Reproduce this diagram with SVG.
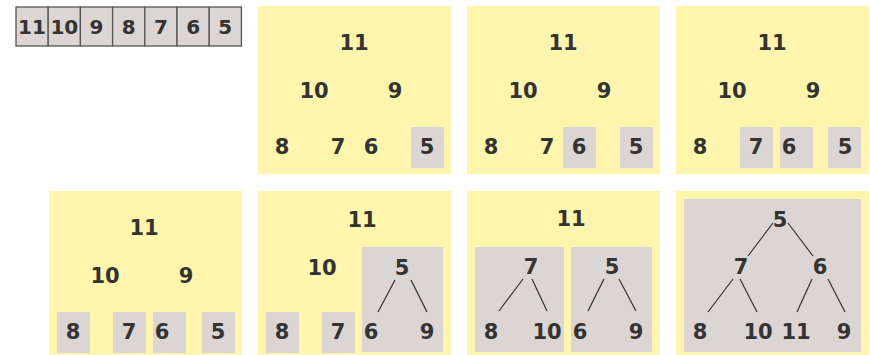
<svg xmlns="http://www.w3.org/2000/svg" width="870" height="355" viewBox="0 0 870 355">
<style>
.panel{fill:#fff5ad}
.box{fill:#dbd5d3}
.cell{fill:#dbd5d3;stroke:#555;stroke-width:1.3}
text{font-family:"DejaVu Sans","Liberation Sans",sans-serif;font-weight:bold;font-size:21px;fill:#333;text-anchor:middle}
.arr{font-size:20px}
.edge{stroke:#333;stroke-width:1.2;fill:none}
</style>
<rect width="870" height="355" fill="#fff"/>
<g id="array">
<rect class="cell" x="16" y="7" width="32.2" height="39"/>
<rect class="cell" x="48.2" y="7" width="32.2" height="39"/>
<rect class="cell" x="80.4" y="7" width="32.2" height="39"/>
<rect class="cell" x="112.6" y="7" width="32.2" height="39"/>
<rect class="cell" x="144.8" y="7" width="32.2" height="39"/>
<rect class="cell" x="177" y="7" width="32.2" height="39"/>
<rect class="cell" x="209.2" y="7" width="32.2" height="39"/>
<text class="arr" x="32" y="34">11</text>
<text class="arr" x="64.3" y="34">10</text>
<text class="arr" x="96.5" y="34">9</text>
<text class="arr" x="128.7" y="34">8</text>
<text class="arr" x="160.9" y="34">7</text>
<text class="arr" x="193.1" y="34">6</text>
<text class="arr" x="225.3" y="34">5</text>
</g>
<g id="panel1">
<rect class="panel" x="258" y="6" width="193" height="168"/>
<rect class="box" x="411" y="127" width="33" height="41"/>
<text x="354" y="50">11</text>
<text x="314" y="98">10</text>
<text x="395" y="98">9</text>
<text x="282" y="154">8</text>
<text x="338" y="154">7</text>
<text x="371" y="154">6</text>
<text x="427" y="154">5</text>
</g>
<g id="panel2">
<rect class="panel" x="467" y="6" width="193" height="168"/>
<rect class="box" x="563" y="127" width="33" height="41"/>
<rect class="box" x="620" y="127" width="33" height="41"/>
<text x="563" y="50">11</text>
<text x="523" y="98">10</text>
<text x="604" y="98">9</text>
<text x="491" y="154">8</text>
<text x="547" y="154">7</text>
<text x="579" y="154">6</text>
<text x="636" y="154">5</text>
</g>
<g id="panel3">
<rect class="panel" x="676" y="6" width="193" height="168"/>
<rect class="box" x="740" y="127" width="33" height="41"/>
<rect class="box" x="780" y="127" width="33" height="41"/>
<rect class="box" x="828" y="127" width="33" height="41"/>
<text x="772" y="50">11</text>
<text x="732" y="98">10</text>
<text x="813" y="98">9</text>
<text x="700" y="154">8</text>
<text x="756" y="154">7</text>
<text x="789" y="154">6</text>
<text x="845" y="154">5</text>
</g>
<g id="panel4">
<rect class="panel" x="49" y="191" width="193" height="168"/>
<rect class="box" x="57" y="312" width="33" height="41"/>
<rect class="box" x="113" y="312" width="33" height="41"/>
<rect class="box" x="153" y="312" width="33" height="41"/>
<rect class="box" x="202" y="312" width="33" height="41"/>
<text x="144" y="235">11</text>
<text x="105" y="283">10</text>
<text x="186" y="283">9</text>
<text x="73" y="339">8</text>
<text x="129" y="339">7</text>
<text x="162" y="339">6</text>
<text x="218" y="339">5</text>
</g>
<g id="panel5">
<rect class="panel" x="258" y="191" width="193" height="168"/>
<rect class="box" x="266" y="312" width="33" height="41"/>
<rect class="box" x="322" y="312" width="33" height="41"/>
<rect class="box" x="362" y="247" width="81" height="105"/>
<text x="362" y="227">11</text>
<text x="322" y="275">10</text>
<text x="402" y="275">5</text>
<text x="282" y="339">8</text>
<text x="338" y="339">7</text>
<text x="371" y="339">6</text>
<text x="427" y="339">9</text>
</g>
<g id="panel6">
<rect class="panel" x="467" y="191" width="193" height="168"/>
<rect class="box" x="475" y="247" width="89" height="105"/>
<rect class="box" x="571" y="247" width="81" height="105"/>
<text x="571" y="226">11</text>
<text x="531" y="274">7</text>
<text x="612" y="274">5</text>
<text x="491" y="339">8</text>
<text x="547" y="339">10</text>
<text x="580" y="339">6</text>
<text x="636" y="339">9</text>
</g>
<g id="panel7">
<rect class="panel" x="676" y="191" width="193" height="168"/>
<rect class="box" x="684" y="199" width="177" height="153"/>
<text x="780" y="227">5</text>
<text x="741" y="274">7</text>
<text x="820" y="274">6</text>
<text x="700" y="339">8</text>
<text x="758" y="339">10</text>
<text x="796" y="339">11</text>
<text x="844" y="339">9</text>
</g>
<g id="connectors">
<line class="edge" x1="395" y1="280" x2="378" y2="312"/>
<line class="edge" x1="411" y1="280" x2="427" y2="312"/>
<line class="edge" x1="523" y1="279" x2="499" y2="311"/>
<line class="edge" x1="532" y1="279" x2="547" y2="311"/>
<line class="edge" x1="604" y1="279" x2="588" y2="311"/>
<line class="edge" x1="619" y1="279" x2="636" y2="311"/>
<line class="edge" x1="773" y1="223" x2="748" y2="256"/>
<line class="edge" x1="788" y1="223" x2="813" y2="256"/>
<line class="edge" x1="733" y1="279" x2="708" y2="312"/>
<line class="edge" x1="740" y1="279" x2="757" y2="312"/>
<line class="edge" x1="812" y1="279" x2="797" y2="312"/>
<line class="edge" x1="828" y1="279" x2="845" y2="312"/>
</g>
</svg>
